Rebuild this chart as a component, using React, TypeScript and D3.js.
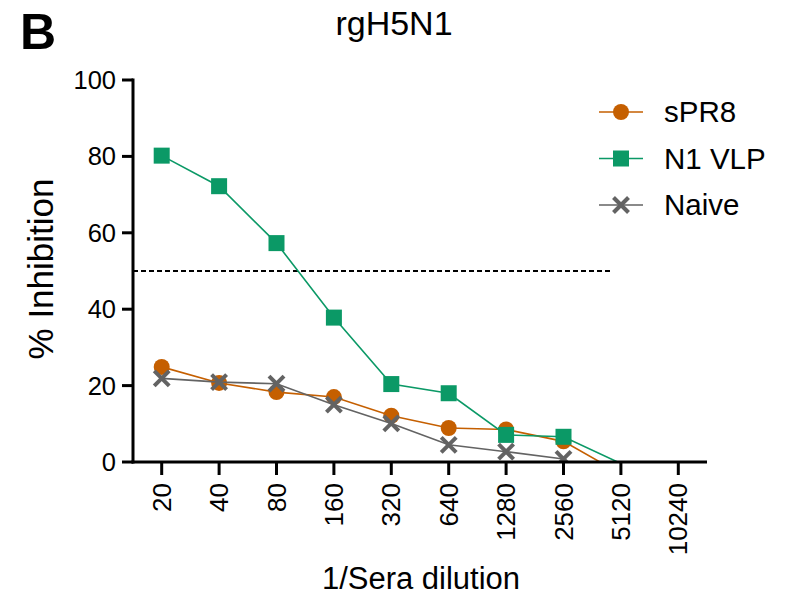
import React from 'react'
import * as d3 from 'd3'

// dilution categories on the x axis
const dilutions = ['20', '40', '80', '160', '320', '640', '1280', '2560', '5120', '10240']

// % inhibition (null = not plotted)
const sPR8 = [24.9, 20.7, 18.3, 17.0, 12.1, 8.9, 8.5, 5.4, -3.1, null]
const n1VLP = [80.2, 72.2, 57.3, 37.8, 20.4, 18.0, 7.1, 6.6, -0.4, null]
const naive = [21.9, 20.9, 20.5, 15.0, 10.1, 4.5, 2.7, 0.8, null, null]

const yTicks = [0, 20, 40, 60, 80, 100]
const cutoff = 50

const series = [
    { name: 'sPR8', values: sPR8, color: '#C55F00', shape: 'circle' },
    { name: 'N1 VLP', values: n1VLP, color: '#0B9966', shape: 'square' },
    { name: 'Naive', values: naive, color: '#636363', shape: 'cross' },
]

const FONT = '"Liberation Sans", Arial, sans-serif'

function Marker({ shape, x, y, color }: { shape: string, x: number, y: number, color: string }) {
    if (shape === 'circle') return <circle cx={x} cy={y} r={8} fill={color} />
    if (shape === 'square') return <rect x={x - 8} y={y - 8} width={16} height={16} fill={color} />
    const s = 7.5
    return (
        <g stroke={color} strokeWidth={4}>
            <line x1={x - s} y1={y - s} x2={x + s} y2={y + s} />
            <line x1={x - s} y1={y + s} x2={x + s} y2={y - s} />
        </g>
    )
}

export default function App() {
    const width = 797, height = 597
    const plot = { left: 133, right: 707, top: 80, bottom: 462 }

    const x = d3.scalePoint<string>().domain(dilutions).range([plot.left, plot.right]).padding(0.5)
    const y = d3.scaleLinear().domain([0, 100]).range([plot.bottom, plot.top])

    const line = d3.line<[string, number | null]>()
        .defined(d => d[1] !== null)
        .x(d => x(d[0]) as number)
        .y(d => y(d[1] as number))

    return (
        <svg width={width} height={height} style={{ position: 'absolute', left: 0, top: 0 }}
             fontFamily={FONT}>
            <rect width={width} height={height} fill='#fff' />
            <defs>
                <clipPath id='plot-clip'>
                    <rect x={plot.left} y={plot.top - 10} width={plot.right - plot.left} height={plot.bottom - plot.top + 10} />
                </clipPath>
            </defs>

            <text x={20} y={49} fontSize={50} fontWeight='bold'>B</text>
            <text x={394} y={35} fontSize={34} textAnchor='middle'>rgH5N1</text>

            {/* 50% cutoff */}
            <line x1={plot.left} x2={610} y1={y(cutoff)} y2={y(cutoff)}
                  stroke='#000' strokeWidth={1.8} strokeDasharray='5,3' />

            {/* series */}
            <g clipPath='url(#plot-clip)'>
                {series.map(s => (
                    <g key={s.name}>
                        <path d={line(dilutions.map((d, i) => [d, s.values[i]]) as any) || ''}
                              fill='none' stroke={s.color} strokeWidth={1.6} />
                        {s.values.map((v, i) => (v === null || v < 0) ? null :
                            <Marker key={i} shape={s.shape} x={x(dilutions[i]) as number} y={y(v)} color={s.color} />
                        )}
                    </g>
                ))}
            </g>

            {/* y axis */}
            <g>
                <line x1={plot.left} x2={plot.left} y1={plot.top - 1.5} y2={plot.bottom + 1.5} stroke='#000' strokeWidth={3} />
                {yTicks.map(t => (
                    <g key={t}>
                        <line x1={plot.left - 11} x2={plot.left} y1={y(t)} y2={y(t)} stroke='#000' strokeWidth={3} />
                        <text x={plot.left - 17} y={y(t)} dy='0.35em' textAnchor='end' fontSize={25.5}>{t}</text>
                    </g>
                ))}
                <text transform={`translate(53,${(plot.top + plot.bottom) / 2 - 2}) rotate(-90)`}
                      textAnchor='middle' fontSize={35}>% Inhibition</text>
            </g>

            {/* x axis */}
            <g>
                <line x1={plot.left - 1.5} x2={plot.right} y1={plot.bottom} y2={plot.bottom} stroke='#000' strokeWidth={3} />
                {dilutions.map(d => (
                    <g key={d}>
                        <line x1={x(d)} x2={x(d)} y1={plot.bottom} y2={plot.bottom + 13} stroke='#000' strokeWidth={3} />
                        <text transform={`translate(${x(d)},${plot.bottom + 21}) rotate(-90)`}
                              textAnchor='end' dy='0.35em' fontSize={26}>{d}</text>
                    </g>
                ))}
                <text x={421} y={589} textAnchor='middle' fontSize={31}>1/Sera dilution</text>
            </g>

            {/* legend */}
            <g>
                {series.map((s, i) => {
                    const ly = 112 + i * 46.5
                    return (
                        <g key={s.name}>
                            <line x1={599} x2={643} y1={ly} y2={ly} stroke={s.color} strokeWidth={1.6} />
                            <Marker shape={s.shape} x={621} y={ly} color={s.color} />
                            <text x={664} y={ly} dy='0.35em' fontSize={29.5}>{s.name}</text>
                        </g>
                    )
                })}
            </g>
        </svg>
    )
}
